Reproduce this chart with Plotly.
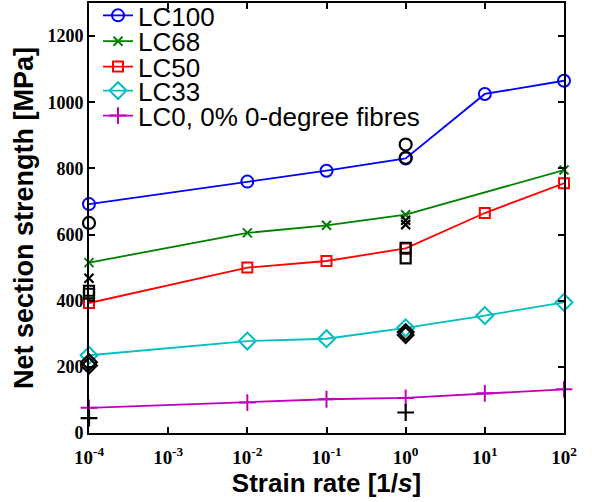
import plotly.graph_objects as go

# Strain rates [1/s]
rate_all = [1e-4, 1e-2, 1e-1, 1e0, 1e1, 1e2]
rate_lc68 = [1e-4, 1e-2, 1e-1, 1e0, 1e2]

# Mean net section strength [MPa] per layup
lc100 = [692, 760, 793, 830, 1025, 1065]
lc68 = [515, 605, 628, 660, 795]
lc50 = [393, 500, 520, 558, 665, 755]
lc33 = [235, 278, 285, 318, 355, 395]
lc0 = [76, 92, 102, 106, 120, 132]

# Individual test results (black markers)
test_rate = [1e-4, 1e0, 1e0]
test_lc100 = [635, 872, 832]
test_lc68_rate = [1e-4, 1e0, 1e0]
test_lc68 = [468, 643, 630]
test_lc50_rate = [1e-4, 1e-4, 1e0, 1e0]
test_lc50 = [430, 421, 560, 528]
test_lc33_rate = [1e-4, 1e-4, 1e0, 1e0]
test_lc33 = [214, 204, 305, 296]
test_lc0_rate = [1e-4, 1e0]
test_lc0 = [45, 62]

x_ticks = [1e-4, 1e-3, 1e-2, 1e-1, 1e0, 1e1, 1e2]
x_ticktext = ["10<sup>-4</sup>", "10<sup>-3</sup>", "10<sup>-2</sup>", "10<sup>-1</sup>",
              "10<sup>0</sup>", "10<sup>1</sup>", "10<sup>2</sup>"]
y_ticks = [0, 200, 400, 600, 800, 1000, 1200]

series = [
    ("LC100", rate_all, lc100, "#0000ff", "circle-open", 12),
    ("LC68", rate_lc68, lc68, "#008000", "x-thin-open", 9),
    ("LC50", rate_all, lc50, "#ff0000", "square-open", 10),
    ("LC33", rate_all, lc33, "#00bfbf", "diamond-open", 13),
    ("LC0, 0% 0-degree fibres", rate_all, lc0, "#bf00bf", "cross-thin-open", 12),
]

tests = [
    (test_rate, test_lc100, "circle-open", 12),
    (test_lc68_rate, test_lc68, "x-thin-open", 9),
    (test_lc50_rate, test_lc50, "square-open", 10),
    (test_lc33_rate, test_lc33, "diamond-open", 12),
    (test_lc0_rate, test_lc0, "cross-thin-open", 12),
]

# One legend per entry so the rows can sit tightly stacked
legend_names = ["legend", "legend2", "legend3", "legend4", "legend5"]
legend_y = [0.971, 0.911, 0.852, 0.796, 0.738]
legend_font = dict(family="Liberation Sans, Arial, sans-serif", size=26, color="black")

fig = go.Figure()

for (name, xs, ys, color, sym, size), lg in zip(series, legend_names):
    fig.add_trace(go.Scatter(
        x=xs, y=ys, name=name, mode="lines+markers", legend=lg,
        line=dict(color=color, width=1.8),
        marker=dict(symbol=sym, size=size, color=color, line=dict(color=color, width=2)),
        cliponaxis=False,
    ))

for xs, ys, sym, size in tests:
    fig.add_trace(go.Scatter(
        x=xs, y=ys, mode="markers", showlegend=False,
        marker=dict(symbol=sym, size=size, color="black", line=dict(color="black", width=2.2)),
        cliponaxis=False,
    ))

layout_legends = {}
for lg, ly in zip(legend_names, legend_y):
    layout_legends[lg] = dict(
        x=0.019, y=ly, xanchor="left", yanchor="middle",
        font=legend_font, bgcolor="rgba(255,255,255,0)",
        itemwidth=30, borderwidth=0,
    )

fig.update_layout(
    width=592, height=502,
    margin=dict(l=89, r=28, t=3, b=69, autoexpand=False),
    paper_bgcolor="white", plot_bgcolor="white",
    showlegend=True,
    **layout_legends,
)

fig.update_xaxes(
    type="log", range=[-4, 2],
    tickvals=x_ticks, ticktext=x_ticktext,
    ticks="inside", ticklen=6, tickwidth=2, tickcolor="black",
    showline=True, linecolor="black", linewidth=2, mirror="ticks",
    showgrid=False, zeroline=False, ticklabelstandoff=6,
    tickfont=dict(family="Liberation Serif, Times New Roman, serif", size=19, color="black", weight="bold"),
    title=dict(text="Strain rate [1/<i>s</i>]", standoff=4,
               font=dict(family="Liberation Sans, Arial, sans-serif", size=26, color="black", weight="bold")),
)

fig.update_yaxes(
    range=[0, 1300],
    tickvals=y_ticks,
    ticks="inside", ticklen=6, tickwidth=2, tickcolor="black",
    showline=True, linecolor="black", linewidth=2, mirror="ticks",
    showgrid=False, zeroline=False,
    tickfont=dict(family="Liberation Serif, Times New Roman, serif", size=18, color="black", weight="bold"),
    title=dict(text="Net section strength [MPa]", standoff=6,
               font=dict(family="Liberation Sans, Arial, sans-serif", size=27, color="black", weight="bold")),
)

fig.write_html("out.html")
